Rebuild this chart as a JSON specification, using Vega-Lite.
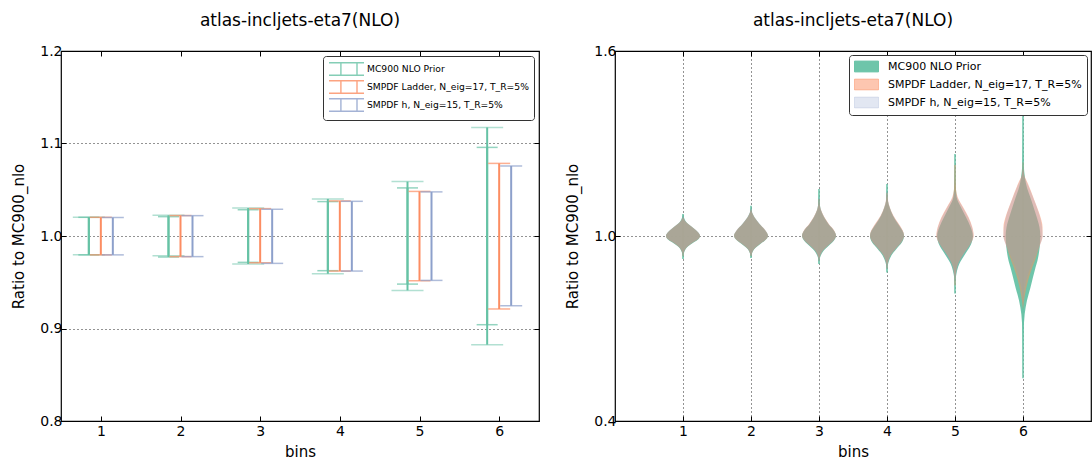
{
  "$schema": "https://vega.github.io/schema/vega-lite/v6.json",
  "background": "white",
  "padding": {"left": 11, "top": 11, "right": 0, "bottom": 0},
  "spacing": 24,
  "config": {
    "font": "DejaVu Sans",
    "view": {"stroke": "black", "strokeWidth": 1.2},
    "title": {"fontSize": 17, "fontWeight": "normal", "font": "DejaVu Sans", "color": "black", "offset": 14},
    "axis": {
      "labelFont": "DejaVu Sans", "labelFontSize": 14, "labelColor": "black",
      "titleFont": "DejaVu Sans", "titleFontSize": 15, "titleFontWeight": "normal", "titleColor": "black",
      "domain": false, "tickColor": "black", "tickSize": -5, "tickWidth": 1, "labelPadding": 8,
      "gridColor": "black", "gridDash": [1, 3], "gridOpacity": 0.85, "gridWidth": 1
    },
    "axisX": {"titlePadding": 6},
    "axisY": {"titlePadding": 13, "labelPadding": 4},
    "legend": {
      "labelFont": "DejaVu Sans", "labelColor": "black", "labelLimit": 400,
      "fillColor": "white", "strokeColor": "#333", "padding": 5, "cornerRadius": 3
    }
  },
  "resolve": {"scale": {"color": "independent"}, "legend": {"color": "independent"}},
  "datasets": {
    "eb": [
      {"bin": 1, "series": "MC900 NLO Prior", "lo": 0.9796, "hi": 1.0204, "lo2": 0.9796, "hi2": 1.0202},
      {"bin": 2, "series": "MC900 NLO Prior", "lo": 0.9787, "hi": 1.0224, "lo2": 0.9773, "hi2": 1.0209},
      {"bin": 3, "series": "MC900 NLO Prior", "lo": 0.9697, "hi": 1.0303, "lo2": 0.9715, "hi2": 1.0284},
      {"bin": 4, "series": "MC900 NLO Prior", "lo": 0.9592, "hi": 1.0401, "lo2": 0.9625, "hi2": 1.0372},
      {"bin": 5, "series": "MC900 NLO Prior", "lo": 0.9412, "hi": 1.0588, "lo2": 0.948, "hi2": 1.052},
      {"bin": 6, "series": "MC900 NLO Prior", "lo": 0.8825, "hi": 1.1174, "lo2": 0.9041, "hi2": 1.0958},
      {"bin": 1, "series": "SMPDF Ladder, N_eig=17, T_R=5%", "lo": 0.9796, "hi": 1.0202},
      {"bin": 2, "series": "SMPDF Ladder, N_eig=17, T_R=5%", "lo": 0.9777, "hi": 1.0221},
      {"bin": 3, "series": "SMPDF Ladder, N_eig=17, T_R=5%", "lo": 0.9711, "hi": 1.0296},
      {"bin": 4, "series": "SMPDF Ladder, N_eig=17, T_R=5%", "lo": 0.9621, "hi": 1.0379},
      {"bin": 5, "series": "SMPDF Ladder, N_eig=17, T_R=5%", "lo": 0.9516, "hi": 1.0482},
      {"bin": 6, "series": "SMPDF Ladder, N_eig=17, T_R=5%", "lo": 0.9211, "hi": 1.0785},
      {"bin": 1, "series": "SMPDF h, N_eig=15, T_R=5%", "lo": 0.9796, "hi": 1.02},
      {"bin": 2, "series": "SMPDF h, N_eig=15, T_R=5%", "lo": 0.9777, "hi": 1.022},
      {"bin": 3, "series": "SMPDF h, N_eig=15, T_R=5%", "lo": 0.9704, "hi": 1.0289},
      {"bin": 4, "series": "SMPDF h, N_eig=15, T_R=5%", "lo": 0.9621, "hi": 1.0375},
      {"bin": 5, "series": "SMPDF h, N_eig=15, T_R=5%", "lo": 0.952, "hi": 1.0477},
      {"bin": 6, "series": "SMPDF h, N_eig=15, T_R=5%", "lo": 0.9246, "hi": 1.0757}
    ],
    "vio": [
      {"bin": 1, "series": "MC900 NLO Prior", "r": 1.0714, "d": 0},
      {"bin": 1, "series": "MC900 NLO Prior", "r": 1.0606, "d": 0.05},
      {"bin": 1, "series": "MC900 NLO Prior", "r": 1.0444, "d": 0.2},
      {"bin": 1, "series": "MC900 NLO Prior", "r": 1.0281, "d": 0.55},
      {"bin": 1, "series": "MC900 NLO Prior", "r": 1.0119, "d": 0.88},
      {"bin": 1, "series": "MC900 NLO Prior", "r": 1.0011, "d": 1.0},
      {"bin": 1, "series": "MC900 NLO Prior", "r": 0.9903, "d": 0.92},
      {"bin": 1, "series": "MC900 NLO Prior", "r": 0.9794, "d": 0.64},
      {"bin": 1, "series": "MC900 NLO Prior", "r": 0.9632, "d": 0.24},
      {"bin": 1, "series": "MC900 NLO Prior", "r": 0.947, "d": 0.07},
      {"bin": 1, "series": "MC900 NLO Prior", "r": 0.9253, "d": 0},
      {"bin": 2, "series": "MC900 NLO Prior", "r": 1.0985, "d": 0},
      {"bin": 2, "series": "MC900 NLO Prior", "r": 1.0823, "d": 0.03},
      {"bin": 2, "series": "MC900 NLO Prior", "r": 1.0606, "d": 0.2},
      {"bin": 2, "series": "MC900 NLO Prior", "r": 1.039, "d": 0.5},
      {"bin": 2, "series": "MC900 NLO Prior", "r": 1.0173, "d": 0.85},
      {"bin": 2, "series": "MC900 NLO Prior", "r": 1.0011, "d": 1.0},
      {"bin": 2, "series": "MC900 NLO Prior", "r": 0.987, "d": 0.85},
      {"bin": 2, "series": "MC900 NLO Prior", "r": 0.974, "d": 0.55},
      {"bin": 2, "series": "MC900 NLO Prior", "r": 0.9578, "d": 0.2},
      {"bin": 2, "series": "MC900 NLO Prior", "r": 0.9416, "d": 0.05},
      {"bin": 2, "series": "MC900 NLO Prior", "r": 0.9286, "d": 0},
      {"bin": 3, "series": "MC900 NLO Prior", "r": 1.1526, "d": 0},
      {"bin": 3, "series": "MC900 NLO Prior", "r": 1.1147, "d": 0.03},
      {"bin": 3, "series": "MC900 NLO Prior", "r": 1.0823, "d": 0.12},
      {"bin": 3, "series": "MC900 NLO Prior", "r": 1.0606, "d": 0.3},
      {"bin": 3, "series": "MC900 NLO Prior", "r": 1.039, "d": 0.55},
      {"bin": 3, "series": "MC900 NLO Prior", "r": 1.0173, "d": 0.88},
      {"bin": 3, "series": "MC900 NLO Prior", "r": 1.0011, "d": 1.0},
      {"bin": 3, "series": "MC900 NLO Prior", "r": 0.9848, "d": 0.87},
      {"bin": 3, "series": "MC900 NLO Prior", "r": 0.9686, "d": 0.57},
      {"bin": 3, "series": "MC900 NLO Prior", "r": 0.9524, "d": 0.27},
      {"bin": 3, "series": "MC900 NLO Prior", "r": 0.9361, "d": 0.1},
      {"bin": 3, "series": "MC900 NLO Prior", "r": 0.909, "d": 0},
      {"bin": 4, "series": "MC900 NLO Prior", "r": 1.1688, "d": 0},
      {"bin": 4, "series": "MC900 NLO Prior", "r": 1.1147, "d": 0.05},
      {"bin": 4, "series": "MC900 NLO Prior", "r": 1.0931, "d": 0.15},
      {"bin": 4, "series": "MC900 NLO Prior", "r": 1.066, "d": 0.35},
      {"bin": 4, "series": "MC900 NLO Prior", "r": 1.039, "d": 0.65},
      {"bin": 4, "series": "MC900 NLO Prior", "r": 1.0119, "d": 0.95},
      {"bin": 4, "series": "MC900 NLO Prior", "r": 1.0011, "d": 1.0},
      {"bin": 4, "series": "MC900 NLO Prior", "r": 0.9794, "d": 0.88},
      {"bin": 4, "series": "MC900 NLO Prior", "r": 0.9578, "d": 0.55},
      {"bin": 4, "series": "MC900 NLO Prior", "r": 0.9361, "d": 0.25},
      {"bin": 4, "series": "MC900 NLO Prior", "r": 0.9145, "d": 0.09},
      {"bin": 4, "series": "MC900 NLO Prior", "r": 0.882, "d": 0},
      {"bin": 5, "series": "MC900 NLO Prior", "r": 1.2662, "d": 0},
      {"bin": 5, "series": "MC900 NLO Prior", "r": 1.2, "d": 0.02},
      {"bin": 5, "series": "MC900 NLO Prior", "r": 1.1255, "d": 0.1},
      {"bin": 5, "series": "MC900 NLO Prior", "r": 1.0931, "d": 0.35},
      {"bin": 5, "series": "MC900 NLO Prior", "r": 1.0606, "d": 0.65},
      {"bin": 5, "series": "MC900 NLO Prior", "r": 1.0281, "d": 0.92},
      {"bin": 5, "series": "MC900 NLO Prior", "r": 1.0011, "d": 1.05},
      {"bin": 5, "series": "MC900 NLO Prior", "r": 0.974, "d": 0.95},
      {"bin": 5, "series": "MC900 NLO Prior", "r": 0.9416, "d": 0.6},
      {"bin": 5, "series": "MC900 NLO Prior", "r": 0.9091, "d": 0.25},
      {"bin": 5, "series": "MC900 NLO Prior", "r": 0.8766, "d": 0.08},
      {"bin": 5, "series": "MC900 NLO Prior", "r": 0.855, "d": 0.03},
      {"bin": 5, "series": "MC900 NLO Prior", "r": 0.8138, "d": 0},
      {"bin": 6, "series": "MC900 NLO Prior", "r": 1.4069, "d": 0},
      {"bin": 6, "series": "MC900 NLO Prior", "r": 1.25, "d": 0.03},
      {"bin": 6, "series": "MC900 NLO Prior", "r": 1.1688, "d": 0.18},
      {"bin": 6, "series": "MC900 NLO Prior", "r": 1.1147, "d": 0.5},
      {"bin": 6, "series": "MC900 NLO Prior", "r": 1.0714, "d": 0.75},
      {"bin": 6, "series": "MC900 NLO Prior", "r": 1.0281, "d": 0.97},
      {"bin": 6, "series": "MC900 NLO Prior", "r": 1.0011, "d": 1.02},
      {"bin": 6, "series": "MC900 NLO Prior", "r": 0.9632, "d": 0.98},
      {"bin": 6, "series": "MC900 NLO Prior", "r": 0.9199, "d": 0.85},
      {"bin": 6, "series": "MC900 NLO Prior", "r": 0.8983, "d": 0.74},
      {"bin": 6, "series": "MC900 NLO Prior", "r": 0.8333, "d": 0.44},
      {"bin": 6, "series": "MC900 NLO Prior", "r": 0.79, "d": 0.23},
      {"bin": 6, "series": "MC900 NLO Prior", "r": 0.7468, "d": 0.1},
      {"bin": 6, "series": "MC900 NLO Prior", "r": 0.68, "d": 0.03},
      {"bin": 6, "series": "MC900 NLO Prior", "r": 0.539, "d": 0},

      {"bin": 1, "series": "SMPDF Ladder, N_eig=17, T_R=5%", "r": 1.062, "d": 0},
      {"bin": 1, "series": "SMPDF Ladder, N_eig=17, T_R=5%", "r": 1.0444, "d": 0.19},
      {"bin": 1, "series": "SMPDF Ladder, N_eig=17, T_R=5%", "r": 1.0281, "d": 0.55},
      {"bin": 1, "series": "SMPDF Ladder, N_eig=17, T_R=5%", "r": 1.0119, "d": 0.88},
      {"bin": 1, "series": "SMPDF Ladder, N_eig=17, T_R=5%", "r": 1.0011, "d": 1.0},
      {"bin": 1, "series": "SMPDF Ladder, N_eig=17, T_R=5%", "r": 0.9903, "d": 0.9},
      {"bin": 1, "series": "SMPDF Ladder, N_eig=17, T_R=5%", "r": 0.9794, "d": 0.6},
      {"bin": 1, "series": "SMPDF Ladder, N_eig=17, T_R=5%", "r": 0.9632, "d": 0.22},
      {"bin": 1, "series": "SMPDF Ladder, N_eig=17, T_R=5%", "r": 0.947, "d": 0.05},
      {"bin": 1, "series": "SMPDF Ladder, N_eig=17, T_R=5%", "r": 0.935, "d": 0},
      {"bin": 2, "series": "SMPDF Ladder, N_eig=17, T_R=5%", "r": 1.085, "d": 0},
      {"bin": 2, "series": "SMPDF Ladder, N_eig=17, T_R=5%", "r": 1.0606, "d": 0.2},
      {"bin": 2, "series": "SMPDF Ladder, N_eig=17, T_R=5%", "r": 1.039, "d": 0.5},
      {"bin": 2, "series": "SMPDF Ladder, N_eig=17, T_R=5%", "r": 1.0173, "d": 0.86},
      {"bin": 2, "series": "SMPDF Ladder, N_eig=17, T_R=5%", "r": 1.0011, "d": 1.0},
      {"bin": 2, "series": "SMPDF Ladder, N_eig=17, T_R=5%", "r": 0.987, "d": 0.84},
      {"bin": 2, "series": "SMPDF Ladder, N_eig=17, T_R=5%", "r": 0.974, "d": 0.52},
      {"bin": 2, "series": "SMPDF Ladder, N_eig=17, T_R=5%", "r": 0.9578, "d": 0.18},
      {"bin": 2, "series": "SMPDF Ladder, N_eig=17, T_R=5%", "r": 0.9416, "d": 0.04},
      {"bin": 2, "series": "SMPDF Ladder, N_eig=17, T_R=5%", "r": 0.935, "d": 0},
      {"bin": 3, "series": "SMPDF Ladder, N_eig=17, T_R=5%", "r": 1.12, "d": 0},
      {"bin": 3, "series": "SMPDF Ladder, N_eig=17, T_R=5%", "r": 1.0823, "d": 0.13},
      {"bin": 3, "series": "SMPDF Ladder, N_eig=17, T_R=5%", "r": 1.0606, "d": 0.32},
      {"bin": 3, "series": "SMPDF Ladder, N_eig=17, T_R=5%", "r": 1.039, "d": 0.58},
      {"bin": 3, "series": "SMPDF Ladder, N_eig=17, T_R=5%", "r": 1.0173, "d": 0.9},
      {"bin": 3, "series": "SMPDF Ladder, N_eig=17, T_R=5%", "r": 1.0011, "d": 1.0},
      {"bin": 3, "series": "SMPDF Ladder, N_eig=17, T_R=5%", "r": 0.9848, "d": 0.84},
      {"bin": 3, "series": "SMPDF Ladder, N_eig=17, T_R=5%", "r": 0.9686, "d": 0.52},
      {"bin": 3, "series": "SMPDF Ladder, N_eig=17, T_R=5%", "r": 0.9524, "d": 0.22},
      {"bin": 3, "series": "SMPDF Ladder, N_eig=17, T_R=5%", "r": 0.9361, "d": 0.07},
      {"bin": 3, "series": "SMPDF Ladder, N_eig=17, T_R=5%", "r": 0.92, "d": 0},
      {"bin": 4, "series": "SMPDF Ladder, N_eig=17, T_R=5%", "r": 1.14, "d": 0},
      {"bin": 4, "series": "SMPDF Ladder, N_eig=17, T_R=5%", "r": 1.0931, "d": 0.16},
      {"bin": 4, "series": "SMPDF Ladder, N_eig=17, T_R=5%", "r": 1.066, "d": 0.38},
      {"bin": 4, "series": "SMPDF Ladder, N_eig=17, T_R=5%", "r": 1.039, "d": 0.7},
      {"bin": 4, "series": "SMPDF Ladder, N_eig=17, T_R=5%", "r": 1.0119, "d": 0.97},
      {"bin": 4, "series": "SMPDF Ladder, N_eig=17, T_R=5%", "r": 1.0011, "d": 1.0},
      {"bin": 4, "series": "SMPDF Ladder, N_eig=17, T_R=5%", "r": 0.9794, "d": 0.84},
      {"bin": 4, "series": "SMPDF Ladder, N_eig=17, T_R=5%", "r": 0.9578, "d": 0.5},
      {"bin": 4, "series": "SMPDF Ladder, N_eig=17, T_R=5%", "r": 0.9361, "d": 0.2},
      {"bin": 4, "series": "SMPDF Ladder, N_eig=17, T_R=5%", "r": 0.9145, "d": 0.06},
      {"bin": 4, "series": "SMPDF Ladder, N_eig=17, T_R=5%", "r": 0.895, "d": 0},
      {"bin": 5, "series": "SMPDF Ladder, N_eig=17, T_R=5%", "r": 1.23, "d": 0},
      {"bin": 5, "series": "SMPDF Ladder, N_eig=17, T_R=5%", "r": 1.15, "d": 0.06},
      {"bin": 5, "series": "SMPDF Ladder, N_eig=17, T_R=5%", "r": 1.1255, "d": 0.16},
      {"bin": 5, "series": "SMPDF Ladder, N_eig=17, T_R=5%", "r": 1.0931, "d": 0.48},
      {"bin": 5, "series": "SMPDF Ladder, N_eig=17, T_R=5%", "r": 1.0606, "d": 0.8},
      {"bin": 5, "series": "SMPDF Ladder, N_eig=17, T_R=5%", "r": 1.0281, "d": 1.02},
      {"bin": 5, "series": "SMPDF Ladder, N_eig=17, T_R=5%", "r": 1.0011, "d": 1.1},
      {"bin": 5, "series": "SMPDF Ladder, N_eig=17, T_R=5%", "r": 0.974, "d": 0.9},
      {"bin": 5, "series": "SMPDF Ladder, N_eig=17, T_R=5%", "r": 0.9416, "d": 0.5},
      {"bin": 5, "series": "SMPDF Ladder, N_eig=17, T_R=5%", "r": 0.9091, "d": 0.18},
      {"bin": 5, "series": "SMPDF Ladder, N_eig=17, T_R=5%", "r": 0.8766, "d": 0.05},
      {"bin": 5, "series": "SMPDF Ladder, N_eig=17, T_R=5%", "r": 0.84, "d": 0},
      {"bin": 6, "series": "SMPDF Ladder, N_eig=17, T_R=5%", "r": 1.2392, "d": 0},
      {"bin": 6, "series": "SMPDF Ladder, N_eig=17, T_R=5%", "r": 1.2, "d": 0.06},
      {"bin": 6, "series": "SMPDF Ladder, N_eig=17, T_R=5%", "r": 1.1688, "d": 0.3},
      {"bin": 6, "series": "SMPDF Ladder, N_eig=17, T_R=5%", "r": 1.1147, "d": 0.68},
      {"bin": 6, "series": "SMPDF Ladder, N_eig=17, T_R=5%", "r": 1.0714, "d": 0.97},
      {"bin": 6, "series": "SMPDF Ladder, N_eig=17, T_R=5%", "r": 1.0281, "d": 1.15},
      {"bin": 6, "series": "SMPDF Ladder, N_eig=17, T_R=5%", "r": 1.0011, "d": 1.15},
      {"bin": 6, "series": "SMPDF Ladder, N_eig=17, T_R=5%", "r": 0.9632, "d": 0.95},
      {"bin": 6, "series": "SMPDF Ladder, N_eig=17, T_R=5%", "r": 0.9199, "d": 0.7},
      {"bin": 6, "series": "SMPDF Ladder, N_eig=17, T_R=5%", "r": 0.8983, "d": 0.55},
      {"bin": 6, "series": "SMPDF Ladder, N_eig=17, T_R=5%", "r": 0.8333, "d": 0.2},
      {"bin": 6, "series": "SMPDF Ladder, N_eig=17, T_R=5%", "r": 0.79, "d": 0.06},
      {"bin": 6, "series": "SMPDF Ladder, N_eig=17, T_R=5%", "r": 0.763, "d": 0},

      {"bin": 1, "series": "SMPDF h, N_eig=15, T_R=5%", "r": 1.065, "d": 0},
      {"bin": 1, "series": "SMPDF h, N_eig=15, T_R=5%", "r": 1.0444, "d": 0.2},
      {"bin": 1, "series": "SMPDF h, N_eig=15, T_R=5%", "r": 1.0281, "d": 0.56},
      {"bin": 1, "series": "SMPDF h, N_eig=15, T_R=5%", "r": 1.0119, "d": 0.9},
      {"bin": 1, "series": "SMPDF h, N_eig=15, T_R=5%", "r": 1.0011, "d": 1.0},
      {"bin": 1, "series": "SMPDF h, N_eig=15, T_R=5%", "r": 0.9903, "d": 0.9},
      {"bin": 1, "series": "SMPDF h, N_eig=15, T_R=5%", "r": 0.9794, "d": 0.6},
      {"bin": 1, "series": "SMPDF h, N_eig=15, T_R=5%", "r": 0.9632, "d": 0.22},
      {"bin": 1, "series": "SMPDF h, N_eig=15, T_R=5%", "r": 0.947, "d": 0.05},
      {"bin": 1, "series": "SMPDF h, N_eig=15, T_R=5%", "r": 0.937, "d": 0},
      {"bin": 2, "series": "SMPDF h, N_eig=15, T_R=5%", "r": 1.088, "d": 0},
      {"bin": 2, "series": "SMPDF h, N_eig=15, T_R=5%", "r": 1.0606, "d": 0.21},
      {"bin": 2, "series": "SMPDF h, N_eig=15, T_R=5%", "r": 1.039, "d": 0.52},
      {"bin": 2, "series": "SMPDF h, N_eig=15, T_R=5%", "r": 1.0173, "d": 0.87},
      {"bin": 2, "series": "SMPDF h, N_eig=15, T_R=5%", "r": 1.0011, "d": 1.0},
      {"bin": 2, "series": "SMPDF h, N_eig=15, T_R=5%", "r": 0.987, "d": 0.84},
      {"bin": 2, "series": "SMPDF h, N_eig=15, T_R=5%", "r": 0.974, "d": 0.52},
      {"bin": 2, "series": "SMPDF h, N_eig=15, T_R=5%", "r": 0.9578, "d": 0.18},
      {"bin": 2, "series": "SMPDF h, N_eig=15, T_R=5%", "r": 0.9416, "d": 0.04},
      {"bin": 2, "series": "SMPDF h, N_eig=15, T_R=5%", "r": 0.936, "d": 0},
      {"bin": 3, "series": "SMPDF h, N_eig=15, T_R=5%", "r": 1.125, "d": 0},
      {"bin": 3, "series": "SMPDF h, N_eig=15, T_R=5%", "r": 1.0823, "d": 0.13},
      {"bin": 3, "series": "SMPDF h, N_eig=15, T_R=5%", "r": 1.0606, "d": 0.31},
      {"bin": 3, "series": "SMPDF h, N_eig=15, T_R=5%", "r": 1.039, "d": 0.57},
      {"bin": 3, "series": "SMPDF h, N_eig=15, T_R=5%", "r": 1.0173, "d": 0.89},
      {"bin": 3, "series": "SMPDF h, N_eig=15, T_R=5%", "r": 1.0011, "d": 1.0},
      {"bin": 3, "series": "SMPDF h, N_eig=15, T_R=5%", "r": 0.9848, "d": 0.85},
      {"bin": 3, "series": "SMPDF h, N_eig=15, T_R=5%", "r": 0.9686, "d": 0.53},
      {"bin": 3, "series": "SMPDF h, N_eig=15, T_R=5%", "r": 0.9524, "d": 0.23},
      {"bin": 3, "series": "SMPDF h, N_eig=15, T_R=5%", "r": 0.9361, "d": 0.08},
      {"bin": 3, "series": "SMPDF h, N_eig=15, T_R=5%", "r": 0.918, "d": 0},
      {"bin": 4, "series": "SMPDF h, N_eig=15, T_R=5%", "r": 1.145, "d": 0},
      {"bin": 4, "series": "SMPDF h, N_eig=15, T_R=5%", "r": 1.0931, "d": 0.16},
      {"bin": 4, "series": "SMPDF h, N_eig=15, T_R=5%", "r": 1.066, "d": 0.37},
      {"bin": 4, "series": "SMPDF h, N_eig=15, T_R=5%", "r": 1.039, "d": 0.68},
      {"bin": 4, "series": "SMPDF h, N_eig=15, T_R=5%", "r": 1.0119, "d": 0.96},
      {"bin": 4, "series": "SMPDF h, N_eig=15, T_R=5%", "r": 1.0011, "d": 1.0},
      {"bin": 4, "series": "SMPDF h, N_eig=15, T_R=5%", "r": 0.9794, "d": 0.85},
      {"bin": 4, "series": "SMPDF h, N_eig=15, T_R=5%", "r": 0.9578, "d": 0.51},
      {"bin": 4, "series": "SMPDF h, N_eig=15, T_R=5%", "r": 0.9361, "d": 0.21},
      {"bin": 4, "series": "SMPDF h, N_eig=15, T_R=5%", "r": 0.9145, "d": 0.07},
      {"bin": 4, "series": "SMPDF h, N_eig=15, T_R=5%", "r": 0.893, "d": 0},
      {"bin": 5, "series": "SMPDF h, N_eig=15, T_R=5%", "r": 1.147, "d": 0},
      {"bin": 5, "series": "SMPDF h, N_eig=15, T_R=5%", "r": 1.1255, "d": 0.13},
      {"bin": 5, "series": "SMPDF h, N_eig=15, T_R=5%", "r": 1.0931, "d": 0.45},
      {"bin": 5, "series": "SMPDF h, N_eig=15, T_R=5%", "r": 1.0606, "d": 0.77},
      {"bin": 5, "series": "SMPDF h, N_eig=15, T_R=5%", "r": 1.0281, "d": 1.0},
      {"bin": 5, "series": "SMPDF h, N_eig=15, T_R=5%", "r": 1.0011, "d": 1.08},
      {"bin": 5, "series": "SMPDF h, N_eig=15, T_R=5%", "r": 0.974, "d": 0.92},
      {"bin": 5, "series": "SMPDF h, N_eig=15, T_R=5%", "r": 0.9416, "d": 0.55},
      {"bin": 5, "series": "SMPDF h, N_eig=15, T_R=5%", "r": 0.9091, "d": 0.22},
      {"bin": 5, "series": "SMPDF h, N_eig=15, T_R=5%", "r": 0.8766, "d": 0.07},
      {"bin": 5, "series": "SMPDF h, N_eig=15, T_R=5%", "r": 0.855, "d": 0},
      {"bin": 6, "series": "SMPDF h, N_eig=15, T_R=5%", "r": 1.2229, "d": 0},
      {"bin": 6, "series": "SMPDF h, N_eig=15, T_R=5%", "r": 1.1905, "d": 0.1},
      {"bin": 6, "series": "SMPDF h, N_eig=15, T_R=5%", "r": 1.158, "d": 0.35},
      {"bin": 6, "series": "SMPDF h, N_eig=15, T_R=5%", "r": 1.1147, "d": 0.67},
      {"bin": 6, "series": "SMPDF h, N_eig=15, T_R=5%", "r": 1.0714, "d": 0.95},
      {"bin": 6, "series": "SMPDF h, N_eig=15, T_R=5%", "r": 1.0281, "d": 1.12},
      {"bin": 6, "series": "SMPDF h, N_eig=15, T_R=5%", "r": 1.0011, "d": 1.15},
      {"bin": 6, "series": "SMPDF h, N_eig=15, T_R=5%", "r": 0.9632, "d": 0.95},
      {"bin": 6, "series": "SMPDF h, N_eig=15, T_R=5%", "r": 0.9199, "d": 0.6},
      {"bin": 6, "series": "SMPDF h, N_eig=15, T_R=5%", "r": 0.8766, "d": 0.3},
      {"bin": 6, "series": "SMPDF h, N_eig=15, T_R=5%", "r": 0.8333, "d": 0.1},
      {"bin": 6, "series": "SMPDF h, N_eig=15, T_R=5%", "r": 0.78, "d": 0}
    ]
  },
  "hconcat": [
    {
      "width": 478,
      "height": 370,
      "title": "atlas-incljets-eta7(NLO)",
      "data": {"name": "eb"},
      "resolve": {"axis": {"x": "independent", "y": "independent"}},
      "encoding": {
        "color": {
          "field": "series", "type": "nominal",
          "scale": {"domain": ["MC900 NLO Prior", "SMPDF Ladder, N_eig=17, T_R=5%", "SMPDF h, N_eig=15, T_R=5%"], "range": ["#66c2a5", "#fc8d62", "#8da0cb"]},
          "legend": {
            "title": null, "orient": "top-right", "offset": 5, "labelFontSize": 9.2,
            "symbolType": "M-1,-0.9H4M-1,0.9H4M0.7,-0.9V0.9M3,-0.9V0.9",
            "symbolSize": 196, "symbolStrokeWidth": 1.4, "symbolFillColor": "transparent", "symbolOpacity": 0.8,
            "labelOffset": 23, "rowPadding": -2
          }
        }
      },
      "layer": [
        {
          "transform": [{"filter": "datum.series == 'MC900 NLO Prior'"}],
          "mark": {"type": "rule", "xOffset": -12, "strokeWidth": 2},
          "encoding": {
            "x": {"field": "bin", "type": "quantitative", "scale": {"domain": [0.5, 6.5]}, "axis": {"values": [1, 2, 3, 4, 5, 6], "format": "d", "title": "bins", "grid": false}},
            "y": {"field": "lo", "type": "quantitative", "scale": {"domain": [0.8, 1.2]}, "axis": {"values": [0.8, 0.9, 1.0, 1.1, 1.2], "format": ".1f", "title": "Ratio to MC900_nlo", "grid": true}},
            "y2": {"field": "hi"}
          }
        },
        {
          "transform": [{"filter": "datum.series == 'MC900 NLO Prior'"}],
          "mark": {"type": "rule", "xOffset": -12, "strokeWidth": 2},
          "encoding": {
            "x": {"field": "bin", "type": "quantitative", "axis": null},
            "y": {"field": "lo2", "type": "quantitative", "axis": null},
            "y2": {"field": "hi2"}
          }
        },
        {
          "transform": [{"filter": "datum.series == 'MC900 NLO Prior'"}, {"fold": ["lo", "hi"], "as": ["k", "v"]}],
          "mark": {"type": "tick", "orient": "horizontal", "size": 32, "thickness": 1.5, "xOffset": -12, "opacity": 0.5},
          "encoding": {
            "x": {"field": "bin", "type": "quantitative", "axis": null},
            "y": {"field": "v", "type": "quantitative", "axis": null}
          }
        },
        {
          "transform": [{"filter": "datum.series == 'MC900 NLO Prior'"}, {"fold": ["lo2", "hi2"], "as": ["k", "v"]}],
          "mark": {"type": "tick", "orient": "horizontal", "size": 21, "thickness": 1.5, "xOffset": -12},
          "encoding": {
            "x": {"field": "bin", "type": "quantitative", "axis": {"orient": "top", "values": [1, 2, 3, 4, 5, 6], "labels": false, "title": null, "grid": false}},
            "y": {"field": "v", "type": "quantitative", "axis": {"orient": "right", "values": [0.8, 0.9, 1.0, 1.1, 1.2], "labels": false, "title": null, "grid": false}}
          }
        },
        {
          "transform": [{"filter": "datum.series == 'SMPDF Ladder, N_eig=17, T_R=5%'"}],
          "mark": {"type": "rule", "xOffset": 0, "strokeWidth": 2},
          "encoding": {
            "x": {"field": "bin", "type": "quantitative", "axis": null},
            "y": {"field": "lo", "type": "quantitative", "axis": null},
            "y2": {"field": "hi"}
          }
        },
        {
          "transform": [{"filter": "datum.series == 'SMPDF Ladder, N_eig=17, T_R=5%'"}, {"fold": ["lo", "hi"], "as": ["k", "v"]}],
          "mark": {"type": "tick", "orient": "horizontal", "size": 22, "thickness": 1.5, "xOffset": 0, "opacity": 0.7},
          "encoding": {
            "x": {"field": "bin", "type": "quantitative", "axis": null},
            "y": {"field": "v", "type": "quantitative", "axis": null}
          }
        },
        {
          "transform": [{"filter": "datum.series == 'SMPDF h, N_eig=15, T_R=5%'"}],
          "mark": {"type": "rule", "xOffset": 12, "strokeWidth": 2},
          "encoding": {
            "x": {"field": "bin", "type": "quantitative", "axis": null},
            "y": {"field": "lo", "type": "quantitative", "axis": null},
            "y2": {"field": "hi"}
          }
        },
        {
          "transform": [{"filter": "datum.series == 'SMPDF h, N_eig=15, T_R=5%'"}, {"fold": ["lo", "hi"], "as": ["k", "v"]}],
          "mark": {"type": "tick", "orient": "horizontal", "size": 22, "thickness": 1.5, "xOffset": 12, "opacity": 0.7},
          "encoding": {
            "x": {"field": "bin", "type": "quantitative", "axis": null},
            "y": {"field": "v", "type": "quantitative", "axis": null}
          }
        }
      ]
    },
    {
      "width": 476,
      "height": 370,
      "title": "atlas-incljets-eta7(NLO)",
      "data": {"name": "vio"},
      "resolve": {"scale": {"x": "independent"}, "axis": {"x": "independent", "y": "independent"}},
      "encoding": {
        "color": {
          "field": "series", "type": "nominal",
          "scale": {"domain": ["MC900 NLO Prior", "SMPDF Ladder, N_eig=17, T_R=5%", "SMPDF h, N_eig=15, T_R=5%"], "range": ["rgba(102,194,165,0.95)", "rgba(252,141,98,0.5)", "rgba(141,160,203,0.25)"]},
          "legend": {
            "title": null, "orient": "top-right", "offset": 4, "labelFontSize": 11,
            "symbolType": "M-1,-0.9H3V0.9H-1Z", "symbolSize": 144, "symbolStrokeWidth": 1, "labelOffset": 21, "rowPadding": 3
          }
        },
        "y": {"field": "r", "type": "quantitative", "scale": {"domain": [0.4, 1.6]}, "axis": null}
      },
      "layer": [
        {
          "mark": {"type": "point", "opacity": 0},
          "encoding": {
            "x": {"field": "bin", "type": "quantitative", "scale": {"domain": [0, 7]}, "axis": {"values": [1, 2, 3, 4, 5, 6], "format": "d", "title": "bins", "grid": true}},
            "y": {"field": "r", "type": "quantitative", "scale": {"domain": [0.4, 1.6]}, "axis": {"values": [0.4, 1.0, 1.6], "format": ".1f", "title": "Ratio to MC900_nlo", "grid": true}}
          }
        },
        {
          "mark": {"type": "point", "opacity": 0},
          "encoding": {
            "x": {"field": "bin", "type": "quantitative", "scale": {"domain": [0, 7]}, "axis": {"orient": "top", "values": [1, 2, 3, 4, 5, 6], "labels": false, "title": null, "grid": false}},
            "y": {"field": "r", "type": "quantitative", "axis": {"orient": "right", "values": [0.4, 1.0, 1.6], "labels": false, "title": null, "grid": false}}
          }
        },
        {
          "mark": {"type": "rule", "strokeWidth": 1.5},
          "encoding": {
            "x": {"field": "bin", "type": "quantitative", "scale": {"domain": [0, 7]}, "axis": null},
            "y": {"aggregate": "min", "field": "r", "type": "quantitative", "axis": null},
            "y2": {"aggregate": "max", "field": "r"}
          }
        },
        {"transform": [{"filter": "datum.bin == 1"}], "mark": {"type": "area", "orient": "horizontal", "interpolate": "monotone"}, "encoding": {"x": {"field": "d", "type": "quantitative", "stack": null, "scale": {"domain": [-4, 24]}, "axis": null}, "x2": {"datum": 0}}},
        {"transform": [{"filter": "datum.bin == 1"}], "mark": {"type": "area", "orient": "horizontal", "interpolate": "monotone"}, "encoding": {"x": {"field": "d", "type": "quantitative", "stack": null, "scale": {"domain": [-24, 4], "reverse": true}, "axis": null}, "x2": {"datum": 0}}},
        {"transform": [{"filter": "datum.bin == 2"}], "mark": {"type": "area", "orient": "horizontal", "interpolate": "monotone"}, "encoding": {"x": {"field": "d", "type": "quantitative", "stack": null, "scale": {"domain": [-8, 20]}, "axis": null}, "x2": {"datum": 0}}},
        {"transform": [{"filter": "datum.bin == 2"}], "mark": {"type": "area", "orient": "horizontal", "interpolate": "monotone"}, "encoding": {"x": {"field": "d", "type": "quantitative", "stack": null, "scale": {"domain": [-20, 8], "reverse": true}, "axis": null}, "x2": {"datum": 0}}},
        {"transform": [{"filter": "datum.bin == 3"}], "mark": {"type": "area", "orient": "horizontal", "interpolate": "monotone"}, "encoding": {"x": {"field": "d", "type": "quantitative", "stack": null, "scale": {"domain": [-12, 16]}, "axis": null}, "x2": {"datum": 0}}},
        {"transform": [{"filter": "datum.bin == 3"}], "mark": {"type": "area", "orient": "horizontal", "interpolate": "monotone"}, "encoding": {"x": {"field": "d", "type": "quantitative", "stack": null, "scale": {"domain": [-16, 12], "reverse": true}, "axis": null}, "x2": {"datum": 0}}},
        {"transform": [{"filter": "datum.bin == 4"}], "mark": {"type": "area", "orient": "horizontal", "interpolate": "monotone"}, "encoding": {"x": {"field": "d", "type": "quantitative", "stack": null, "scale": {"domain": [-16, 12]}, "axis": null}, "x2": {"datum": 0}}},
        {"transform": [{"filter": "datum.bin == 4"}], "mark": {"type": "area", "orient": "horizontal", "interpolate": "monotone"}, "encoding": {"x": {"field": "d", "type": "quantitative", "stack": null, "scale": {"domain": [-12, 16], "reverse": true}, "axis": null}, "x2": {"datum": 0}}},
        {"transform": [{"filter": "datum.bin == 5"}], "mark": {"type": "area", "orient": "horizontal", "interpolate": "monotone"}, "encoding": {"x": {"field": "d", "type": "quantitative", "stack": null, "scale": {"domain": [-20, 8]}, "axis": null}, "x2": {"datum": 0}}},
        {"transform": [{"filter": "datum.bin == 5"}], "mark": {"type": "area", "orient": "horizontal", "interpolate": "monotone"}, "encoding": {"x": {"field": "d", "type": "quantitative", "stack": null, "scale": {"domain": [-8, 20], "reverse": true}, "axis": null}, "x2": {"datum": 0}}},
        {"transform": [{"filter": "datum.bin == 6"}], "mark": {"type": "area", "orient": "horizontal", "interpolate": "monotone"}, "encoding": {"x": {"field": "d", "type": "quantitative", "stack": null, "scale": {"domain": [-24, 4]}, "axis": null}, "x2": {"datum": 0}}},
        {"transform": [{"filter": "datum.bin == 6"}], "mark": {"type": "area", "orient": "horizontal", "interpolate": "monotone"}, "encoding": {"x": {"field": "d", "type": "quantitative", "stack": null, "scale": {"domain": [-4, 24], "reverse": true}, "axis": null}, "x2": {"datum": 0}}}
      ]
    }
  ]
}
